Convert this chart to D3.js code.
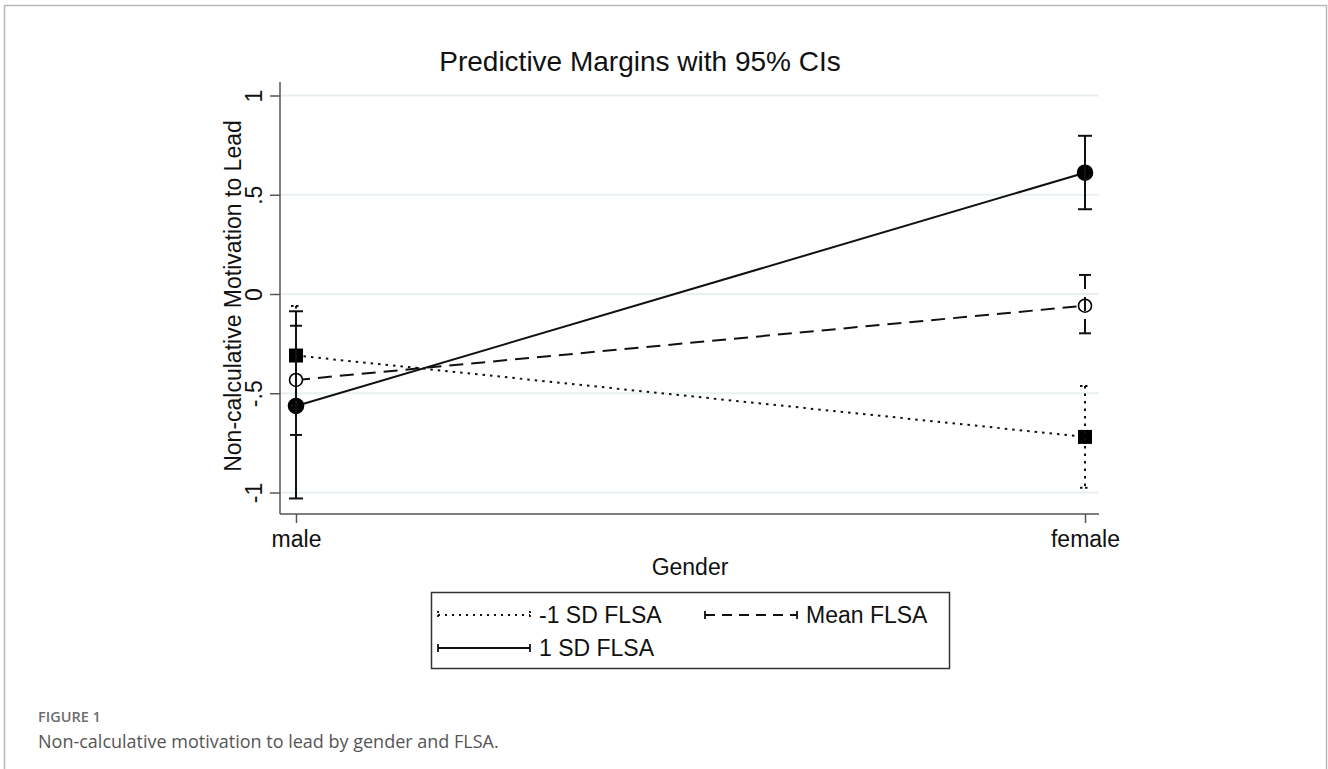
<!DOCTYPE html>
<html>
<head>
<meta charset="utf-8">
<script src="https://cdn.jsdelivr.net/npm/d3@7"></script>
<style>
  html, body { margin: 0; padding: 0; background: #fff; }
  svg { display: block; }
  .stata { font-family: "Liberation Sans", Arial, sans-serif; fill: #111; }
  .cap { font-family: "Open Sans", "Noto Sans", sans-serif; }
</style>
</head>
<body>
<svg id="chart"></svg>
<script>
// categories and values
const genders = ['male', 'female'];
const seriesNames = ['-1 SD FLSA', 'Mean FLSA', '1 SD FLSA'];

const lowMargin = [-0.31, -0.72];
const lowLower = [-0.56, -0.976];
const lowUpper = [-0.06, -0.463];

const meanMargin = [-0.433, -0.059];
const meanLower = [-0.71, -0.198];
const meanUpper = [-0.16, 0.096];

const highMargin = [-0.564, 0.611];
const highLower = [-1.03, 0.427];
const highUpper = [-0.087, 0.797];

const yTicks = [-1, -0.5, 0, 0.5, 1];
const yTickLabels = ['-1', '-.5', '0', '.5', '1'];

const W = 1328, H = 769;

// series styling (stata s2mono-ish)
const styles = [
  { dash: '2.5,5', marker: 'square', cap: 5 },
  { dash: '14,8', marker: 'hollow', cap: 6 },
  { dash: null, marker: 'filled', cap: 7 }
];

const series = [
  { name: seriesNames[0], m: lowMargin, lo: lowLower, hi: lowUpper },
  { name: seriesNames[1], m: meanMargin, lo: meanLower, hi: meanUpper },
  { name: seriesNames[2], m: highMargin, lo: highLower, hi: highUpper }
];

const svg = d3.select('#chart')
  .attr('width', W)
  .attr('height', H);

// outer figure frame
svg.append('rect')
  .attr('x', 4.5).attr('y', 5.5)
  .attr('width', 1322).attr('height', 800)
  .attr('fill', 'none')
  .attr('stroke', '#b8b8b8')
  .attr('stroke-width', 1.5);

// scales
const x = d3.scalePoint()
  .domain(genders)
  .range([296, 1085]);
const y = d3.scaleLinear()
  .domain([-1, 1])
  .range([492.5, 95.5]);

const plotLeft = 280, plotRight = 1099, plotTop = 82, plotBottom = 514;

// grid lines
svg.append('g')
  .selectAll('line')
  .data(yTicks)
  .join('line')
  .attr('x1', plotLeft + 1).attr('x2', plotRight)
  .attr('y1', d => y(d)).attr('y2', d => y(d))
  .attr('stroke', '#e9f0f2')
  .attr('stroke-width', 2);

// y axis
const yAxis = d3.axisLeft(y)
  .tickValues(yTicks)
  .tickFormat((d, i) => yTickLabels[i])
  .tickSize(10)
  .tickPadding(6);

const gy = svg.append('g')
  .attr('transform', `translate(${plotLeft},0)`)
  .call(yAxis);
gy.select('.domain').remove();
gy.selectAll('.tick line').attr('stroke', '#555').attr('stroke-width', 1.5);
gy.selectAll('.tick text')
  .attr('class', 'stata')
  .attr('font-size', 23)
  .attr('text-anchor', 'middle')
  .attr('x', 0).attr('dy', 0)
  .attr('transform', 'translate(-18,0) rotate(-90)');
svg.append('line')
  .attr('x1', plotLeft).attr('x2', plotLeft)
  .attr('y1', plotTop).attr('y2', plotBottom)
  .attr('stroke', '#555').attr('stroke-width', 1.5);

// x axis
const xAxis = d3.axisBottom(x)
  .tickSize(9)
  .tickPadding(8);
const gx = svg.append('g')
  .attr('transform', `translate(0,${plotBottom})`)
  .call(xAxis);
gx.select('.domain').remove();
gx.selectAll('.tick line').attr('stroke', '#555').attr('stroke-width', 1.5);
gx.selectAll('.tick text')
  .attr('class', 'stata')
  .attr('font-size', 23);
svg.append('line')
  .attr('x1', plotLeft).attr('x2', plotRight)
  .attr('y1', plotBottom).attr('y2', plotBottom)
  .attr('stroke', '#555').attr('stroke-width', 1.5);

// titles
svg.append('text')
  .attr('class', 'stata')
  .attr('x', 640).attr('y', 71)
  .attr('text-anchor', 'middle')
  .attr('font-size', 28)
  .text('Predictive Margins with 95% CIs');

svg.append('text')
  .attr('class', 'stata')
  .attr('transform', 'translate(241,296) rotate(-90)')
  .attr('text-anchor', 'middle')
  .attr('font-size', 23)
  .text('Non-calculative Motivation to Lead');

svg.append('text')
  .attr('class', 'stata')
  .attr('x', 690).attr('y', 575)
  .attr('text-anchor', 'middle')
  .attr('font-size', 23)
  .text('Gender');

// connecting lines
const line = d3.line()
  .x((d, i) => x(genders[i]))
  .y(d => y(d));

series.forEach((s, k) => {
  svg.append('path')
    .datum(s.m)
    .attr('d', line)
    .attr('fill', 'none')
    .attr('stroke', '#111')
    .attr('stroke-width', 2)
    .attr('stroke-dasharray', styles[k].dash);
});

// markers
series.forEach((s, k) => {
  const st = styles[k];
  const g = svg.append('g');
  if (st.marker === 'square') {
    g.selectAll('rect')
      .data(s.m)
      .join('rect')
      .attr('x', (d, i) => x(genders[i]) - 7)
      .attr('y', d => y(d) - 7)
      .attr('width', 14).attr('height', 14)
      .attr('fill', '#000');
  } else {
    g.selectAll('circle')
      .data(s.m)
      .join('circle')
      .attr('cx', (d, i) => x(genders[i]))
      .attr('cy', d => y(d))
      .attr('r', st.marker === 'filled' ? 7.5 : 6.5)
      .attr('fill', st.marker === 'filled' ? '#000' : '#fff')
      .attr('stroke', '#000')
      .attr('stroke-width', 1.6);
  }
});

// CI bars (drawn over the markers, as stata does)
series.forEach((s, k) => {
  const g = svg.append('g');
  const st = styles[k];
  genders.forEach((gname, i) => {
    const cx = x(gname);
    g.append('line')
      .attr('x1', cx).attr('x2', cx)
      .attr('y1', y(s.hi[i])).attr('y2', y(s.lo[i]))
      .attr('stroke', '#111').attr('stroke-width', 2)
      .attr('stroke-dasharray', st.dash);
    [s.hi[i], s.lo[i]].forEach(v => {
      g.append('line')
        .attr('x1', cx - st.cap).attr('x2', cx + st.cap)
        .attr('y1', y(v)).attr('y2', y(v))
        .attr('stroke', '#111').attr('stroke-width', 2)
        .attr('stroke-dasharray', k === 0 ? '2.5,2.5' : null);
    });
  });
});

// legend
const legend = svg.append('g');
legend.append('rect')
  .attr('x', 431.5).attr('y', 592.5)
  .attr('width', 518).attr('height', 76)
  .attr('fill', '#fff')
  .attr('stroke', '#333')
  .attr('stroke-width', 1.5);

const legendPos = [
  { x: 438, y: 615 },
  { x: 705, y: 615 },
  { x: 438, y: 648 }
];
series.forEach((s, k) => {
  const p = legendPos[k];
  const st = styles[k];
  const g = legend.append('g').attr('transform', `translate(${p.x},${p.y})`);
  g.append('line')
    .attr('x1', 0).attr('x2', 92)
    .attr('y1', 0).attr('y2', 0)
    .attr('stroke', '#111').attr('stroke-width', 2)
    .attr('stroke-dasharray', st.dash ? (k === 1 ? '10,7' : '2,5') : null);
  [0, 92].forEach(ex => {
    g.append('line')
      .attr('x1', ex).attr('x2', ex)
      .attr('y1', -4).attr('y2', 4)
      .attr('stroke', '#111').attr('stroke-width', 1.8)
      .attr('stroke-dasharray', k === 0 ? '2,2' : null);
  });
  g.append('text')
    .attr('class', 'stata')
    .attr('x', 101).attr('y', 8)
    .attr('font-size', 23)
    .text(s.name);
});

// caption
svg.append('text')
  .attr('class', 'cap')
  .attr('x', 38).attr('y', 722)
  .attr('font-size', 14.5)
  .attr('font-weight', 600)
  .attr('fill', '#6d6d6d')
  .text('FIGURE 1');
svg.append('text')
  .attr('class', 'cap')
  .attr('x', 38).attr('y', 748)
  .attr('font-size', 18)
  .attr('fill', '#555')
  .text('Non-calculative motivation to lead by gender and FLSA.');
</script>
</body>
</html>
